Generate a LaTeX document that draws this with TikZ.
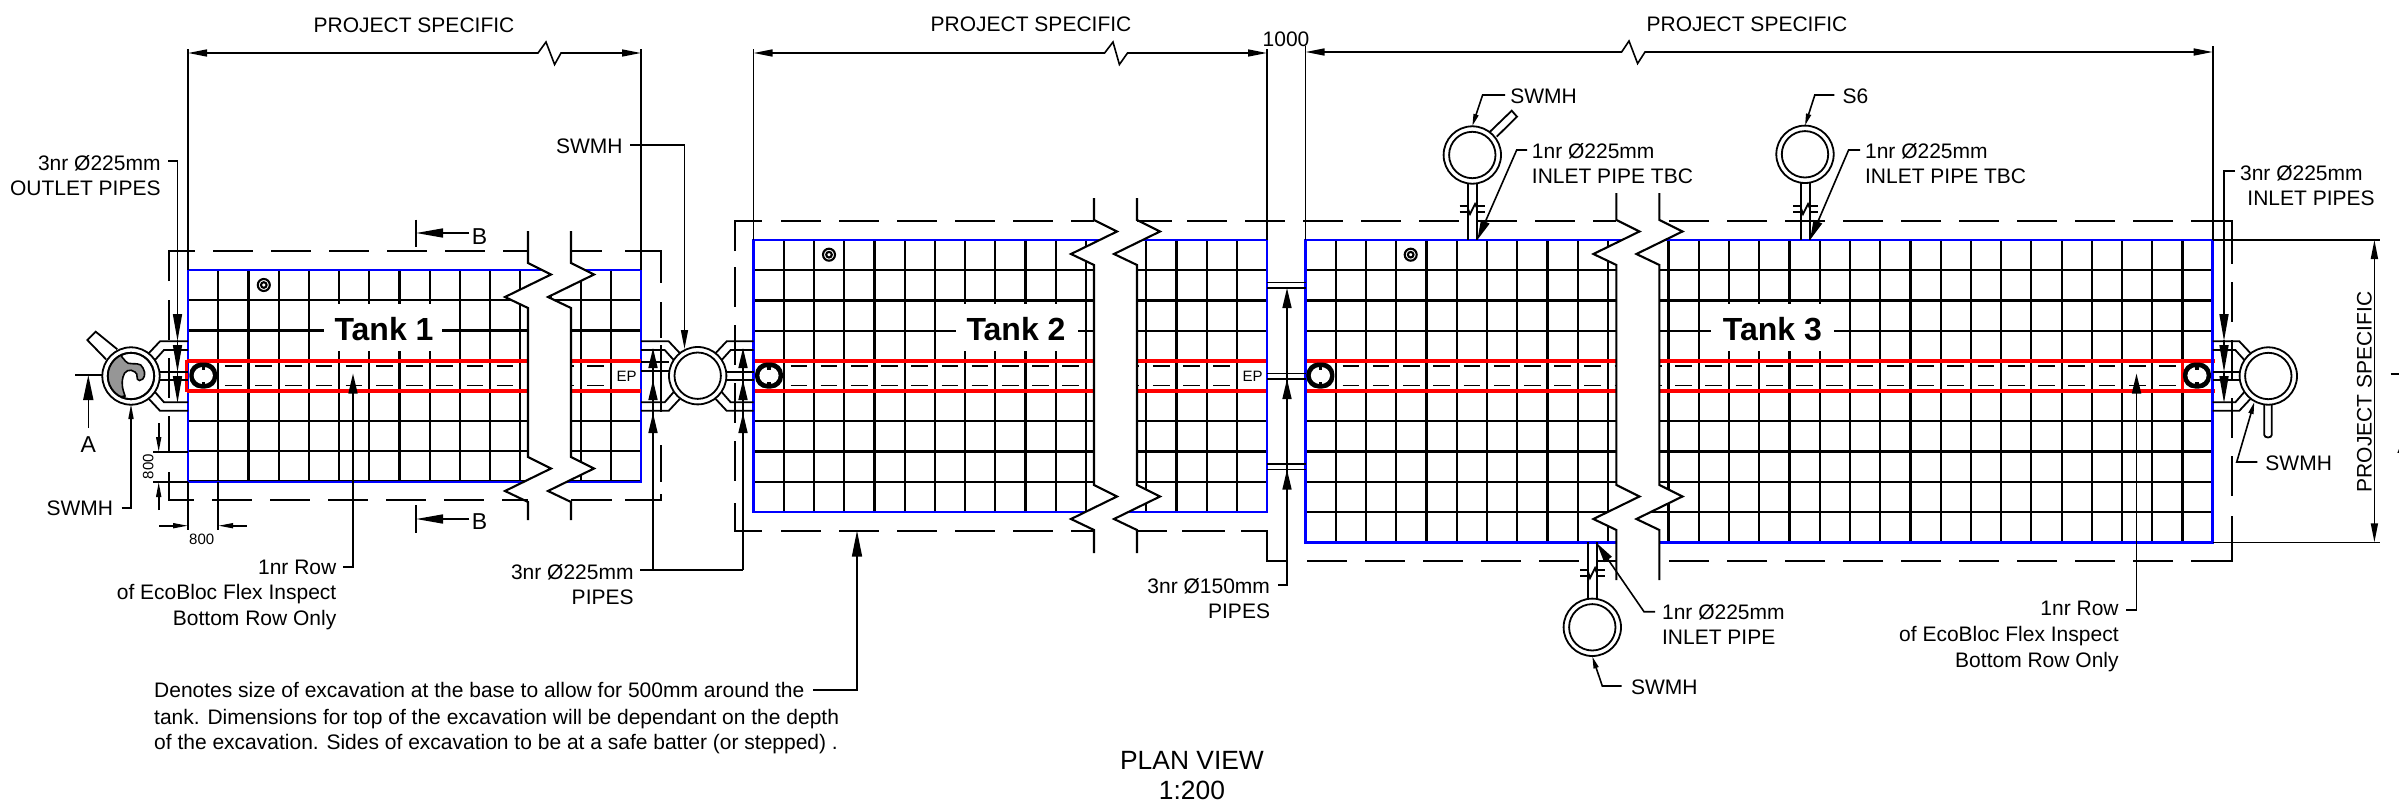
\documentclass[tikz,border=0pt]{standalone}
\usepackage{fontspec}
\setmainfont{Liberation Sans}
\usetikzlibrary{arrows.meta}
\definecolor{tankblue}{RGB}{0,0,255}
\definecolor{rowred}{RGB}{255,0,0}
\definecolor{swirl}{RGB}{150,150,150}
\tikzset{
  lbl/.style={font=\fontsize{10.5}{12}\selectfont,inner sep=0pt,text height=7.5pt,text depth=0pt},
  seclbl/.style={font=\fontsize{11.5}{13}\selectfont,inner sep=0pt,text height=8.2pt,text depth=0pt},
  smalllbl/.style={font=\fontsize{7.5}{9}\selectfont,inner sep=0pt,text height=5.4pt,text depth=0pt},
  tanklbl/.style={font=\fontsize{16}{19}\selectfont\bfseries,inner sep=0pt,text height=11.5pt,text depth=0pt},
  titlelbl/.style={font=\fontsize{13.2}{15}\selectfont,inner sep=0pt,text height=9.4pt,text depth=0pt},
  gridl/.style={line width=1.1pt,black},
  thinl/.style={line width=0.8pt,black},
  pipel/.style={line width=0.9pt,black},
  zigl/.style={line width=1.05pt,black,line join=miter},
  exc/.style={line width=1.05pt,black,dash pattern=on 20pt off 9pt},
  excs/.style={line width=1.05pt,black},
  bluel/.style={line width=1.4pt,tankblue},
  redl/.style={line width=1.7pt,rowred},
  rowd/.style={line width=0.8pt,black},
  dimt/.style={thinl,{Triangle[length=9.5pt,width=3.5pt]}-{Triangle[length=9.5pt,width=3.5pt]}},
  dimtip/.style={thinl,-{Triangle[length=9.5pt,width=3.5pt]}},
  bigtip/.style={thinl,-{Triangle[length=10pt,width=4.5pt]}},
  atip/.style={thinl,-{Triangle[length=12.5pt,width=5pt]}},
  hugetip/.style={thinl,-{Triangle[length=13pt,width=5pt]}},
  secttip/.style={thinl,-{Triangle[length=13.5pt,width=4.5pt]}},
  tinytip/.style={thinl,-{Triangle[length=7.5pt,width=2.5pt]}},
  lowtip/.style={thinl,-{Triangle[length=6pt,width=2.5pt]}}
}
% x0, ncols, pitch, ytop, nrows
\newcommand{\tankgrid}[5]{%
  \foreach \n in {1,...,#2}{\pgfmathsetmacro\xx{#1+#3*\n}\draw[gridl] (\xx,#4) -- ++(0,30.2*#5);}
  \foreach \k in {1,...,#5}{\pgfmathsetmacro\yy{#4+30.2*\k}\pgfmathsetmacro\xe{#1+#3*#2}\draw[gridl] (#1,\yy) -- (\xe,\yy);}
}
% x0, first cell, last cell, pitch
\newcommand{\rowdashes}[4]{%
  \foreach \n in {#2,...,#3}{\pgfmathsetmacro\xa{#1+#4*\n+6.7}\pgfmathsetmacro\xb{\xa+16.7}
    \draw[rowd] (\xa,366) -- (\xb,366); \draw[rowd] (\xa,385.5) -- (\xb,385.5);}
}
% xL, xR, ytop, yzag, ybot, yend
\newcommand{\breakzone}[6]{%
  \pgfmathsetmacro\la{#1+23}\pgfmathsetmacro\lb{#1-23}\pgfmathsetmacro\ra{#2+23}\pgfmathsetmacro\rb{#2-23}
  \pgfmathsetmacro\za{#4+11.5}\pgfmathsetmacro\zb{#4+34}\pgfmathsetmacro\zc{#4+45}
  \pgfmathsetmacro\wa{#5+11.5}\pgfmathsetmacro\wb{#5+34}\pgfmathsetmacro\wc{#5+45}
  \fill[white] (#1,#3) -- (#1,#4) -- (\la,\za) -- (\lb,\zb) -- (#1,\zc) -- (#1,#5) -- (\la,\wa) -- (\lb,\wb) -- (#1,\wc) -- (#1,#6)
     -- (#2,#6) -- (#2,\wc) -- (\rb,\wb) -- (\ra,\wa) -- (#2,#5) -- (#2,\zc) -- (\rb,\zb) -- (\ra,\za) -- (#2,#4) -- (#2,#3) -- cycle;
  \draw[zigl] (#1,#3) -- (#1,#4) -- (\la,\za) -- (\lb,\zb) -- (#1,\zc) -- (#1,#5) -- (\la,\wa) -- (\lb,\wb) -- (#1,\wc) -- (#1,#6);
  \draw[zigl] (#2,#3) -- (#2,#4) -- (\ra,\za) -- (\rb,\zb) -- (#2,\zc) -- (#2,#5) -- (\ra,\wa) -- (\rb,\wb) -- (#2,\wc) -- (#2,#6);
}
\newcommand{\mhole}[2]{%
  \draw[pipel,fill=white] (#1,#2) circle[radius=28.7];
  \draw[pipel] (#1,#2) circle[radius=23.2];
}
% pipes leaving a chamber to the right: cx, tank x
\newcommand{\pipesright}[2]{%
  \pgfmathsetmacro\pa{#1+18}\pgfmathsetmacro\pb{#1+29}\pgfmathsetmacro\pc{#1+24}\pgfmathsetmacro\pd{#1+33}
  \draw[pipel] (\pa,353) -- (\pb,341.3) -- (#2,341.3);
  \draw[pipel] (\pc,360) -- (\pd,350) -- (#2,350);
  \draw[pipel] (\pb,371.7) -- (#2,371.7);
  \draw[pipel] (\pb,379.6) -- (#2,379.6);
  \draw[pipel] (\pc,392) -- (\pd,402.3) -- (#2,402.3);
  \draw[pipel] (\pa,399) -- (\pb,410.8) -- (#2,410.8);
}
% pipes leaving a chamber to the left: cx, tank x, middle pipe y1, y2
\newcommand{\pipesleft}[4]{%
  \pgfmathsetmacro\pa{#1-18}\pgfmathsetmacro\pb{#1-29}\pgfmathsetmacro\pc{#1-24}\pgfmathsetmacro\pd{#1-33}
  \draw[pipel] (\pa,353) -- (\pb,341.3) -- (#2,341.3);
  \draw[pipel] (\pc,360) -- (\pd,350) -- (#2,350);
  \draw[pipel] (\pb,#3) -- (#2,#3);
  \draw[pipel] (\pb,#4) -- (#2,#4);
  \draw[pipel] (\pc,392) -- (\pd,402.3) -- (#2,402.3);
  \draw[pipel] (\pa,399) -- (\pb,410.8) -- (#2,410.8);
}
% inspection chamber symbol
\newcommand{\inspect}[1]{%
  \fill[black,rounded corners=6pt] (#1-14,362.5) rectangle (#1+14,388.5);
  \fill[white] (#1,375.5) ellipse[x radius=9.6,y radius=8.6];
  \fill[black] (#1-1.8,366) rectangle (#1+1.8,369.5);
  \fill[black] (#1-1.8,381.5) rectangle (#1+1.8,385);
}
\newcommand{\ringmark}[2]{%
  \draw[line width=1.05pt,black,fill=white] (#1,#2) circle[radius=6];
  \draw[line width=1.05pt,black] (#1,#2) circle[radius=2.8];
}
% pipe break mark: xl, xr, y
\newcommand{\pipebreak}[3]{%
  \pgfmathsetmacro\ba{#1-8}\pgfmathsetmacro\bb{#2+8}\pgfmathsetmacro\bc{(#1+#2)/2}\pgfmathsetmacro\bd{\bc-2.5}\pgfmathsetmacro\be{\bc+2.5}
  \draw[pipel] (\ba,#3) -- (#1,#3); \draw[pipel] (\ba,#3+5.7) -- (#1,#3+5.7);
  \draw[pipel] (#2,#3) -- (\bb,#3); \draw[pipel] (#2,#3+5.7) -- (\bb,#3+5.7);
  \draw[pipel] (#1,#3+2.5) -- (\bd,#3+8) -- (\be,#3-2) -- (#2,#3+2.5);
}
\begin{document}
\begin{tikzpicture}[x=0.5pt,y=-0.5pt]
\useasboundingbox (0,0) rectangle (2399,803);

%%%% Tank 1
\tankgrid{188}{15}{30.2}{270}{7}
\rowdashes{188}{1}{13}{30.2}
\fill[white] (324,304) rectangle (442,351);
\draw[bluel] (188,270) rectangle (641,482);
\draw[redl] (186.7,361) -- (641,361);
\draw[redl] (186.7,391) -- (641,391);
\draw[redl] (186.7,360.3) -- (186.7,391.7);
\inspect{203.3}
\ringmark{263.8}{285}
\breakzone{528}{571}{231}{263}{457}{520}

%%%% Tank 2
\tankgrid{753.6}{17}{30.2}{240}{9}
\rowdashes{753.6}{1}{15}{30.2}
\fill[white] (956,304) rectangle (1077.6,351);
\draw[redl] (753.6,361) -- (1267,361);
\draw[redl] (753.6,391) -- (1267,391);
\draw[bluel] (753.6,240) rectangle (1267,512);
\inspect{769}
\ringmark{829}{254.7}
\breakzone{1094}{1137}{198}{220}{485}{553}

%%%% Tank 3
\tankgrid{1305.6}{30}{30.24}{240}{10}
\rowdashes{1305.6}{1}{28}{30.24}
\fill[white] (1711,304) rectangle (1833.7,351);
\draw[redl] (1305.6,361) -- (2215,361);
\draw[redl] (1305.6,391) -- (2215,391);
\draw[redl] (2182.3,361) -- (2182.3,391);
\draw[bluel] (1305.6,240) rectangle (2212.7,542.4);
\inspect{1320.4}
\inspect{2197}
\ringmark{1410.7}{254.7}
\breakzone{1616.4}{1659.4}{193}{220}{485}{580}

%%%% Excavation outlines
\draw[excs] (169,281) -- (169,251) -- (195,251);
\draw[exc] (213,251) -- (528,251);
\draw[excs] (571,251) -- (602,251);
\draw[excs] (625,251) -- (661,251) -- (661,283);
\draw[exc] (169,300) -- (169,452);
\draw[excs] (169,472) -- (169,500) -- (194,500);
\draw[exc] (212,500) -- (528,500);
\draw[excs] (571,500) -- (612,500);
\draw[excs] (625,500) -- (661,500) -- (661,494);
\draw[excs] (661,302) -- (661,338);
\draw[excs] (661,345) -- (661,412);
\draw[excs] (661,445) -- (661,482);

\draw[excs] (735,251) -- (735,221) -- (762,221);
\draw[exc] (781,221) -- (1094,221);
\draw[exc] (735,267) -- (735,499);
\draw[excs] (735,503) -- (735,531) -- (762,531);
\draw[exc] (781,531) -- (1094,531);
\draw[excs] (1137,221) -- (1172,221);
\draw[exc] (1187,221) -- (1616.4,221);
\draw[excs] (1137,531) -- (1167,531);
\draw[excs] (1182,531) -- (1225,531);
\draw[excs] (1241,531) -- (1267,531) -- (1267,561) -- (1288,561);
\draw[exc] (1307,561) -- (1616.4,561);
\draw[exc] (2173,221) -- (1659.4,221);
\draw[excs] (2191,221) -- (2231.6,221) -- (2231.6,264);
\draw[exc] (2231.6,282) -- (2231.6,498);
\draw[excs] (2231.6,516) -- (2231.6,561) -- (2191,561);
\draw[exc] (2173,561) -- (1659.4,561);

%%%% Pipes between tanks and chambers
\pipesright{131}{188}
\pipesleft{697.7}{641}{361.7}{370.7}
\pipesright{697.7}{753.6}
\pipesleft{2268.3}{2212.7}{371.7}{380}
\foreach \yp in {282.4,287.8,373.4,378.6,464,469.4}{\draw[pipel] (1267,\yp) -- (1305.6,\yp);}

%%%% Chambers
\draw[pipel,fill=white] (106,359.3) -- (87.3,340) -- (95.7,331.7) -- (117.3,349.3);
\mhole{131}{376}
\begin{scope}
  \clip (131,376) circle[radius=23.2];
  \filldraw[fill=swirl,draw=black,line width=0.8pt] (121.7,356.7) .. controls (125,360) and (126,363) .. (128.3,363.3)
     .. controls (134,364.5) and (141,362) .. (143,368)
     .. controls (146,373) and (145,380) .. (139.5,380.5)
     .. controls (135,380) and (139,374) .. (135,372)
     .. controls (130,368) and (124,371) .. (123,377)
     .. controls (121,385) and (123,390) .. (125,396)
     -- (100,400) -- (100,340) -- (121.7,340) -- cycle;
\end{scope}
\draw[pipel] (131,376) circle[radius=23.2];
\mhole{697.7}{375.7}
\draw[pipel,fill=white] (2264.3,400) -- (2264.3,435) arc[start angle=180,end angle=360,x radius=3.7,y radius=-2.5] -- (2271.7,400);
\mhole{2268.3}{376}
% top inlet chamber 1
\draw[pipel] (1467.7,183) -- (1467.7,240);
\draw[pipel] (1477.3,183) -- (1477.3,240);
\pipebreak{1467.7}{1477.3}{206}
\draw[pipel,fill=white] (1490,131.7) -- (1511.7,110.7) -- (1517,116.7) -- (1496.7,136.7);
\mhole{1472.3}{155}
% top inlet chamber 2
\draw[pipel] (1801,183) -- (1801,240);
\draw[pipel] (1810,183) -- (1810,240);
\pipebreak{1801}{1810}{206}
\mhole{1805}{154.3}
% bottom inlet chamber
\draw[pipel] (1588.3,542.4) -- (1588.3,600);
\draw[pipel] (1596.7,542.4) -- (1596.7,600);
\pipebreak{1588.3}{1596.7}{570}
\mhole{1592.3}{627.3}

%%%% Overall dimensions
\draw[thinl] (188,49) -- (188,270);
\draw[thinl] (641,49) -- (641,270);
\draw[thinl] (753.6,49) -- (753.6,240);
\draw[thinl] (1267,49) -- (1267,240);
\draw[thinl] (1305.6,46) -- (1305.6,240);
\draw[thinl] (2212.7,46) -- (2212.7,240);
\draw[dimt] (188,53) -- (538,53) -- (546,42) -- (554.6,64.5) -- (561,53) -- (641,53);
\draw[dimt] (753.6,53) -- (1104.6,53) -- (1113,42) -- (1119.4,64.5) -- (1127.5,53) -- (1267,53);
\draw[dimt] (1305.6,52) -- (1621.6,52) -- (1629,41) -- (1637.6,63.5) -- (1645,52) -- (2212.7,52);
\draw[thinl] (2212.7,240) -- (2380,240);
\draw[thinl] (2212.7,542.4) -- (2380,542.4);
\draw[dimt] (2374.4,240) -- (2374.4,542.4);
\node[lbl] (ps1) at (414,25) {PROJECT SPECIFIC};
\node[lbl] (ps2) at (1031,24) {PROJECT SPECIFIC};
\node[lbl] (ps3) at (1747,24) {PROJECT SPECIFIC};
\node[lbl] (gap) at (1286,38.8) {1000};
\node[lbl,rotate=90] (ps4) at (2364,392) {PROJECT SPECIFIC};

%%%% Section marks
\draw[thinl] (75,375) -- (101.7,375);
\draw[atip] (88.3,428) -- (88.3,375);
\node[seclbl] (secA) at (88.3,444) {A};
\draw[thinl] (2390.7,374) -- (2399,374);
\node[seclbl] (secAr) at (2405,445) {A};
\draw[thinl] (416,219.6) -- (416,247);
\draw[secttip] (469,233) -- (416,233);
\node[seclbl] (secB1) at (479.6,236) {B};
\draw[thinl] (416,505) -- (416,532.6);
\draw[secttip] (469,519) -- (416,519);
\node[seclbl] (secB2) at (479.6,521.6) {B};

%%%% 800 dimensions
\draw[thinl] (153,452) -- (188,452);
\draw[thinl] (153,482) -- (188,482);
\draw[tinytip] (158.7,423) -- (158.7,452);
\draw[tinytip] (158.7,510) -- (158.7,482);
\node[smalllbl,rotate=90] (d800v) at (148,466.7) {800};
\draw[thinl] (188,482) -- (188,530);
\draw[thinl] (218.2,482) -- (218.2,530);
\draw[tinytip] (159,525.7) -- (188,525.7);
\draw[tinytip] (246.7,525.7) -- (218.2,525.7);
\node[smalllbl] (d800h) at (201.7,539) {800};

%%%% Annotation text
\node[lbl,anchor=east] (outa) at (161,163) {3nr Ø225mm};
\node[lbl,anchor=east] (outb) at (161,188) {OUTLET PIPES};
\draw[thinl] (168,161) -- (177.5,161) -- (177.5,330);
\draw[secttip] (177.5,310) -- (177.5,341);
\draw[secttip] (177.5,340) -- (177.5,372);
\draw[secttip] (177.5,372) -- (177.5,403);

\node[lbl,anchor=east] (swl) at (113.5,508) {SWMH};
\draw[tinytip] (121.7,508) -- (131,508) -- (131,404);

\node[lbl,anchor=east] (swm) at (623,145.7) {SWMH};
\draw[dimtip] (630,145) -- (684.5,145) -- (684.5,349);

\node[lbl,anchor=east] (rowa) at (336.7,567) {1nr Row};
\node[lbl,anchor=east] (rowb) at (336.7,592) {of EcoBloc Flex Inspect};
\node[lbl,anchor=east] (rowc) at (336.7,617.5) {Bottom Row Only};
\draw[bigtip] (343,567) -- (353,567) -- (353,373.5);

\node[smalllbl] (ep1t) at (626.5,376) {EP};
\node[smalllbl] (ep2t) at (1252.5,376) {EP};
\node[tanklbl] (t1) at (384,328.6) {Tank 1};
\node[tanklbl] (t2) at (1016,328.6) {Tank 2};
\node[tanklbl] (t3) at (1772.4,328.6) {Tank 3};

\node[lbl,anchor=east] (pa) at (634,572) {3nr Ø225mm};
\node[lbl,anchor=east] (pb) at (634,597) {PIPES};
\draw[thinl] (640,570) -- (743,570);
\draw[bigtip] (653,570) -- (653,348);
\draw[bigtip] (653,440) -- (653,380);
\draw[bigtip] (653,570) -- (653,413);
\draw[bigtip] (743,570) -- (743,348);
\draw[bigtip] (743,440) -- (743,380);
\draw[bigtip] (743,570) -- (743,413);

\node[lbl,anchor=east] (pc) at (1270.4,586) {3nr Ø150mm};
\node[lbl,anchor=east] (pd) at (1270.4,611.4) {PIPES};
\draw[bigtip] (1278,585) -- (1287,585) -- (1287,288);
\draw[bigtip] (1287,420) -- (1287,379);
\draw[bigtip] (1287,520) -- (1287,469.6);

\draw[hugetip] (813,690) -- (857,690) -- (857,530.6);
\node[lbl,anchor=west] (noa) at (153.8,690) {Denotes size of excavation at the base to allow for 500mm around the};
\node[lbl,anchor=west] (nob) at (153.8,716.5) {tank. Dimensions for top of the excavation will be dependant on the depth};
\node[lbl,anchor=west] (noc) at (153.8,741.5) {of the excavation. Sides of excavation to be at a safe batter (or stepped) .};

\node[titlelbl] (pv) at (1192,760) {PLAN VIEW};
\node[titlelbl] (sc) at (1192,790) {1:200};

\node[lbl,anchor=west] (swt) at (1510,96) {SWMH};
\draw[lowtip] (1505,95) -- (1482.6,95) -- (1472.3,126);
\node[lbl,anchor=west] (ia1) at (1531.5,151) {1nr Ø225mm};
\node[lbl,anchor=west] (ib1) at (1531.5,175.5) {INLET PIPE TBC};
\draw[bigtip] (1527,150) -- (1516.7,150) -- (1477.3,240);

\node[lbl,anchor=west] (s6) at (1842.3,96) {S6};
\draw[lowtip] (1834.3,95) -- (1814.8,95) -- (1805,125.6);
\node[lbl,anchor=west] (ia2) at (1864.7,151) {1nr Ø225mm};
\node[lbl,anchor=west] (ib2) at (1864.7,175.5) {INLET PIPE TBC};
\draw[bigtip] (1860,150) -- (1848.6,150) -- (1810,240);

\node[lbl,anchor=west] (ia3) at (1661.7,612) {1nr Ø225mm};
\node[lbl,anchor=west] (ib3) at (1661.7,637) {INLET PIPE};
\draw[bigtip] (1655,611.7) -- (1644,611.7) -- (1596.7,543);

\node[lbl,anchor=west] (swb) at (1630.7,686.7) {SWMH};
\draw[lowtip] (1621.7,686) -- (1602.3,686) -- (1592.3,656.5);

\node[lbl,anchor=west] (ra) at (2239.7,173) {3nr Ø225mm};
\node[lbl,anchor=west] (rb) at (2247,198) {INLET PIPES};
\draw[thinl] (2235,171) -- (2224,171) -- (2224,330);
\draw[secttip] (2224,310) -- (2224,341);
\draw[secttip] (2224,340) -- (2224,372);
\draw[secttip] (2224,372) -- (2224,403);

\node[lbl,anchor=west] (swr) at (2265,462.7) {SWMH};
\draw[lowtip] (2257.3,462) -- (2236.7,462) -- (2254.3,402);

\node[lbl,anchor=east] (rowd) at (2119,608) {1nr Row};
\node[lbl,anchor=east] (rowe) at (2119,634) {of EcoBloc Flex Inspect};
\node[lbl,anchor=east] (rowf) at (2119,660) {Bottom Row Only};
\draw[bigtip] (2126,610) -- (2136.5,610) -- (2136.5,373.5);
\end{tikzpicture}
\end{document}
